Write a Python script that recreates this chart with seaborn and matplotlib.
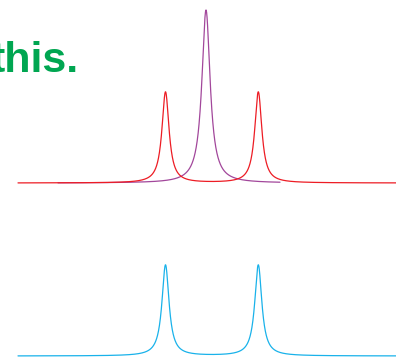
import numpy as np
import pandas as pd
import matplotlib
matplotlib.use("Agg")
import matplotlib.pyplot as plt
import seaborn as sns

# Lorentzian line parameters for each trace: centres, heights, half widths
red_centers = [165.5, 258.3]
red_heights = [91.0, 91.0]
red_hwhm = [4.3, 4.3]
red_range = [18.0, 396.0]
red_offset = 176.0

purple_centers = [206.0]
purple_heights = [173.0]
purple_hwhm = [5.0]
purple_range = [58.0, 280.0]
purple_offset = 176.0

blue_centers = [165.5, 258.3]
blue_heights = [91.0, 91.0]
blue_hwhm = [4.3, 4.3]
blue_range = [18.0, 396.0]
blue_offset = 3.0

title_text = "this."


def spectrum(name, centers, heights, hwhm, xr, offset):
    x = np.linspace(xr[0], xr[1], 2000)
    y = np.full_like(x, offset)
    for c, h, g in zip(centers, heights, hwhm):
        y += h * g**2 / ((x - c) ** 2 + g**2)
    return pd.DataFrame({"x": x, "y": y, "trace": name})


df = pd.concat([
    spectrum("red", red_centers, red_heights, red_hwhm, red_range, red_offset),
    spectrum("purple", purple_centers, purple_heights, purple_hwhm, purple_range, purple_offset),
    spectrum("blue", blue_centers, blue_heights, blue_hwhm, blue_range, blue_offset),
], ignore_index=True)

sns.set_theme(style="white")
fig = plt.figure(figsize=(3.96, 3.59), dpi=100)
ax = fig.add_axes([0, 0, 1, 1])
palette = {"red": "#ED1C24", "purple": "#A2479B", "blue": "#19B2EA"}
sns.lineplot(data=df, x="x", y="y", hue="trace", palette=palette,
             hue_order=["purple", "red", "blue"], linewidth=0.9,
             legend=False, ax=ax, sort=False, estimator=None)
ax.set_xlim(0, 396)
ax.set_ylim(0, 359)
ax.set_axis_off()

fig.text(79 / 396, 1 - 71.5 / 359, title_text, ha="right", va="baseline",
         fontsize=31, fontweight="bold", color="#00A651",
         family=["Liberation Sans", "DejaVu Sans"])

fig.savefig("out.png", dpi=100, facecolor="white")
